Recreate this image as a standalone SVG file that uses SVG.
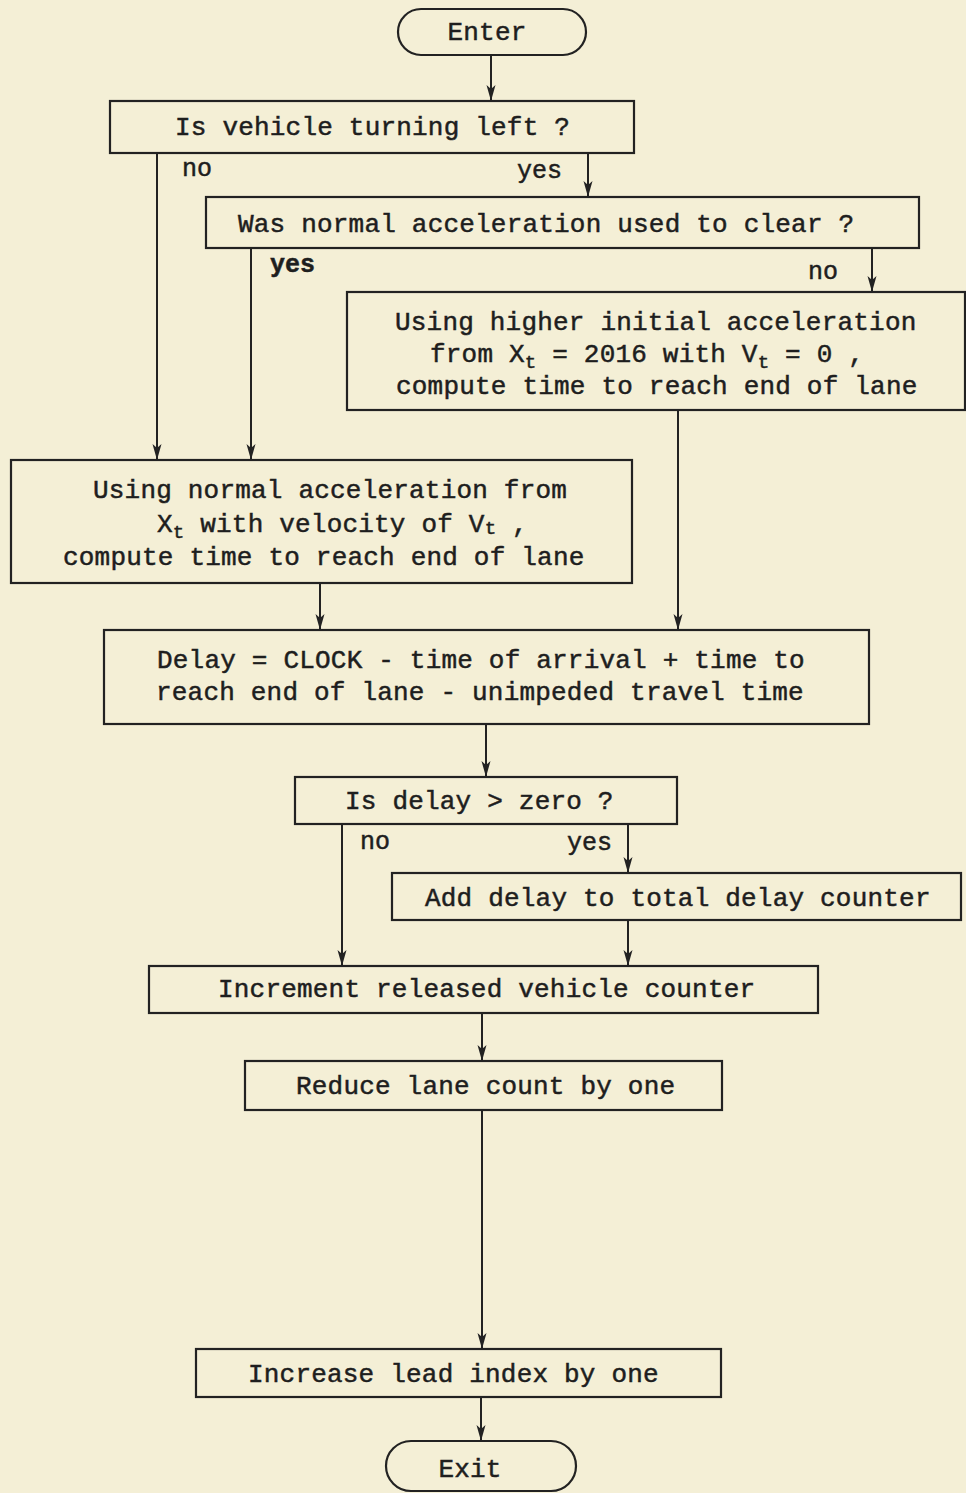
<svg xmlns="http://www.w3.org/2000/svg" width="966" height="1493" viewBox="0 0 966 1493">
<defs>
<marker id="ah" viewBox="0 0 16 10" refX="16" refY="5" markerWidth="16" markerHeight="10" markerUnits="userSpaceOnUse" orient="auto">
<path d="M0,0.5 L16,5 L0,9.5 L4,5 Z" fill="#222"/>
</marker>
<style>
.b{fill:none;stroke:#222;stroke-width:2.2}
.t{font-family:"Liberation Mono","DejaVu Sans Mono",monospace;font-size:26px;letter-spacing:0.2px;fill:#1e1e1e;stroke:#1e1e1e;stroke-width:0.5}
.c{text-anchor:middle}
.l{font-family:"Liberation Mono","DejaVu Sans Mono",monospace;font-size:25px;fill:#1e1e1e;stroke:#1e1e1e;stroke-width:0.5}
.bold{font-weight:bold}
.e{fill:none;stroke:#222;stroke-width:2;marker-end:url(#ah)}
.s{font-size:19px}
</style>
</defs>
<rect width="966" height="1493" fill="#f4efd6"/>
<g id="connectors">
<line class="e" x1="491" y1="55" x2="491" y2="101"/>
<line class="e" x1="157" y1="153" x2="157" y2="460"/>
<line class="e" x1="588" y1="153" x2="588" y2="197"/>
<line class="e" x1="251" y1="248" x2="251" y2="460"/>
<line class="e" x1="872" y1="248" x2="872" y2="292"/>
<line class="e" x1="678" y1="410" x2="678" y2="630"/>
<line class="e" x1="320" y1="583" x2="320" y2="630"/>
<line class="e" x1="486" y1="724" x2="486" y2="777"/>
<line class="e" x1="342" y1="824" x2="342" y2="966"/>
<line class="e" x1="628" y1="824" x2="628" y2="873"/>
<line class="e" x1="628" y1="920" x2="628" y2="966"/>
<line class="e" x1="482" y1="1013" x2="482" y2="1061"/>
<line class="e" x1="482" y1="1110" x2="482" y2="1349"/>
<line class="e" x1="481" y1="1397" x2="481" y2="1441"/>
<text class="l" x="182" y="176">no</text>
<text class="l" x="517" y="178">yes</text>
<text class="l bold" x="270" y="272">yes</text>
<text class="l" x="808" y="279">no</text>
<text class="l" x="360" y="849">no</text>
<text class="l" x="567" y="850">yes</text>
</g>
<g id="enter">
<rect class="b" x="398" y="9" width="188" height="46" rx="23"/>
<text class="t c" x="487" y="40">Enter</text>
</g>
<g id="turning-left">
<rect class="b" x="110" y="101" width="524" height="52"/>
<text class="t" x="175" y="135">Is vehicle turning left ?</text>
</g>
<g id="normal-accel-q">
<rect class="b" x="206" y="197" width="713" height="51"/>
<text class="t" x="238" y="232">Was normal acceleration used to clear ?</text>
</g>
<g id="higher-accel">
<rect class="b" x="347" y="292" width="618" height="118"/>
<text class="t" x="395" y="330">Using higher initial acceleration</text>
<text class="t" x="430" y="362">from X<tspan class="s" dy="6">t</tspan><tspan dy="-6"> = 2016 with V</tspan><tspan class="s" dy="6">t</tspan><tspan dy="-6"> = 0 ,</tspan></text>
<text class="t" x="396" y="394">compute time to reach end of lane</text>
</g>
<g id="normal-accel">
<rect class="b" x="11" y="460" width="621" height="123"/>
<text class="t" x="93" y="498">Using normal acceleration from</text>
<text class="t" x="157" y="532">X<tspan class="s" dy="6">t</tspan><tspan dy="-6"> with velocity of V</tspan><tspan class="s" dy="2">t</tspan><tspan dy="-2"> ,</tspan></text>
<text class="t" x="63" y="565">compute time to reach end of lane</text>
</g>
<g id="delay">
<rect class="b" x="104" y="630" width="765" height="94"/>
<text class="t" x="157" y="668">Delay = CLOCK - time of arrival + time to</text>
<text class="t" x="156" y="700">reach end of lane - unimpeded travel time</text>
</g>
<g id="delay-zero">
<rect class="b" x="295" y="777" width="382" height="47"/>
<text class="t" x="345" y="809">Is delay &gt; zero ?</text>
</g>
<g id="add-delay">
<rect class="b" x="392" y="873" width="569" height="47"/>
<text class="t" x="425" y="906">Add delay to total delay counter</text>
</g>
<g id="increment">
<rect class="b" x="149" y="966" width="669" height="47"/>
<text class="t" x="218" y="997">Increment released vehicle counter</text>
</g>
<g id="reduce">
<rect class="b" x="245" y="1061" width="477" height="49"/>
<text class="t" x="296" y="1094">Reduce lane count by one</text>
</g>
<g id="increase">
<rect class="b" x="196" y="1349" width="525" height="48"/>
<text class="t" x="248" y="1382">Increase lead index by one</text>
</g>
<g id="exit">
<rect class="b" x="386" y="1441" width="190" height="50" rx="25"/>
<text class="t c" x="470" y="1477">Exit</text>
</g>
</svg>
